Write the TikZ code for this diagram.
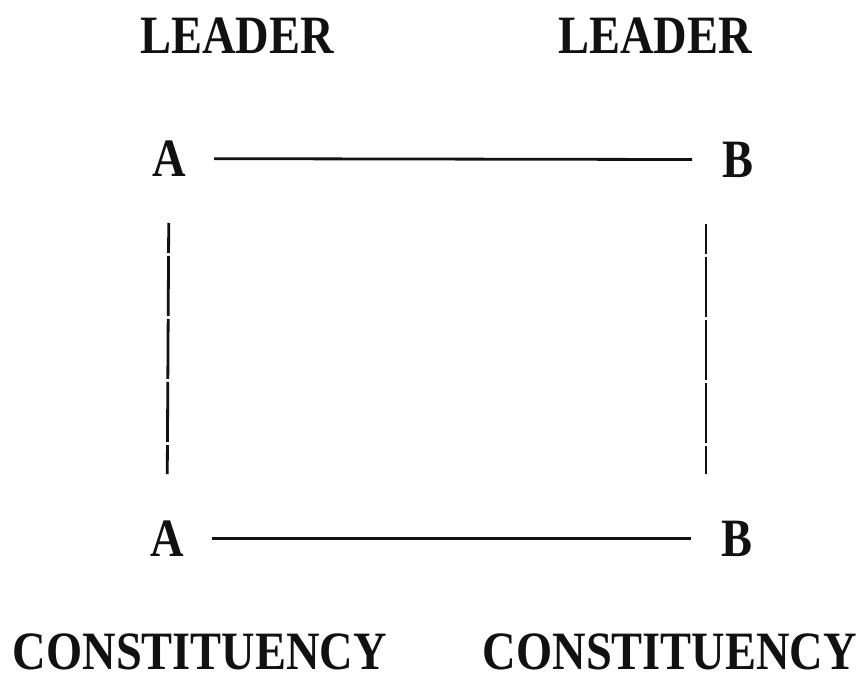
\documentclass[tikz,border=0pt]{standalone}
\usepackage{fontspec}
\newfontfamily\diagfont[FakeStretch=0.86]{Liberation Serif}
\usepackage{tikz}
\definecolor{inkblack}{HTML}{111111}

\begin{document}
\begin{tikzpicture}[x=0.5pt, y=-0.5pt,
  label/.style={font=\diagfont\bfseries\fontsize{27}{32}\selectfont, text=inkblack, inner sep=0pt, anchor=base},
  corner/.style={label, text height=18pt, text depth=0pt, anchor=south},
  link/.style={inkblack, line width=1.4pt},
  dashlink/.style={link, dash pattern=on 30pt off 1.5pt, dash phase=15pt}]

\useasboundingbox (0,0) rectangle (866,678);

% Headings
\node[label] (leadA) at (237, 54) {LEADER};
\node[label] (leadB) at (655, 54) {LEADER};
\node[label] (constA) at (200, 669) {CONSTITUENCY};
\node[label] (constB) at (670, 669) {CONSTITUENCY};

% Corners of the square
\node[corner] (aTop) at (169, 177) {A};
\node[corner] (bTop) at (738, 178) {B};
\node[corner] (aBot) at (167, 557) {A};
\node[corner] (bBot) at (737, 557) {B};

% Leader to leader, constituency to constituency
\draw[link, shorten <=14pt, shorten >=15pt] (aTop) -- (bTop);
\draw[link, shorten <=14pt, shorten >=15pt] (aBot) -- (bBot);

% Leader to own constituency
\draw[dashlink, shorten <=23pt, shorten >=23pt] (aTop.south) -- (aBot.north);
\draw[dashlink, shorten <=23pt, shorten >=23pt]
  ([xshift=-16pt]bTop.south) -- ([xshift=-15.5pt]bBot.north);

\end{tikzpicture}
\end{document}
